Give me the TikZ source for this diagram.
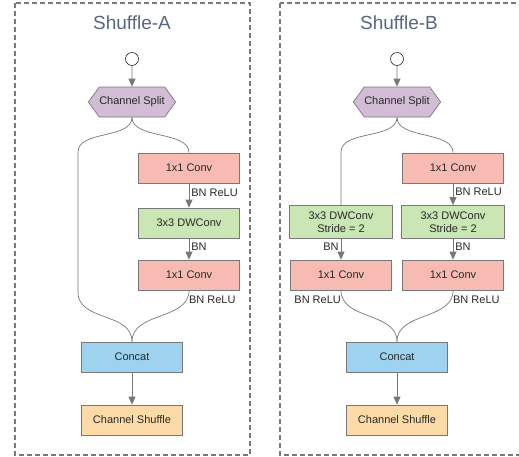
\documentclass[tikz,border=0pt]{standalone}
\usepackage{fontspec}
\setmainfont{Liberation Sans}
\usepackage{tikz}
\usetikzlibrary{arrows.meta,shapes.symbols}

\definecolor{convpink}{RGB}{248,187,179}
\definecolor{dwgreen}{RGB}{201,230,180}
\definecolor{catblue}{RGB}{158,211,240}
\definecolor{shufpeach}{RGB}{253,219,168}
\definecolor{splitlav}{RGB}{211,188,214}
\definecolor{linegray}{RGB}{120,120,120}
\definecolor{titleblue}{RGB}{88,102,128}
\definecolor{textdark}{RGB}{40,40,40}

\begin{document}
\begin{tikzpicture}[x=1pt,y=-1pt,
    blk/.style={draw=linegray, line width=0.7pt, minimum width=101pt, minimum height=30pt,
        inner sep=0pt, text=textdark, font=\fontsize{11}{13}\selectfont, align=center},
    conv/.style={blk, fill=convpink},
    dw/.style={blk, fill=dwgreen},
    dwtwo/.style={blk, fill=dwgreen, minimum width=103pt, minimum height=33pt},
    cat/.style={blk, fill=catblue},
    shuf/.style={blk, fill=shufpeach},
    split/.style={draw=linegray, line width=0.7pt, fill=splitlav, shape=signal,
        signal to=west and east, signal pointer angle=108, minimum width=83pt,
        minimum height=30pt, inner xsep=0pt, inner ysep=0pt, text=textdark,
        font=\fontsize{11}{13}\selectfont},
    inp/.style={draw=textdark, fill=white, circle, minimum size=13pt, inner sep=0pt, line width=0.6pt},
    title/.style={text=titleblue, font=\fontsize{19}{22}\selectfont},
    lbl/.style={text=textdark, font=\fontsize{11}{13}\selectfont, inner sep=2pt},
    ln/.style={draw=linegray, line width=0.7pt},
    arr/.style={ln, -{Triangle[length=8pt,width=7pt]}},
    frame/.style={draw=linegray, line width=1.1pt, dash pattern=on 5pt off 3pt}
]
\useasboundingbox (0,0) rectangle (519,456);

\draw[frame] (15,3) rectangle (250,455);
\draw[frame] (280,3) rectangle (530,455);

% Shuffle-A
\node[title] (titA) at (132,23) {Shuffle-A};
\node[inp] (inA) at (132,59) {};
\node[split] (splitA) at (132,102) {Channel Split};
\node[conv] (cA1) at (189,168) {1x1 Conv};
\node[dw] (dwA) at (189,223) {3x3 DWConv};
\node[conv] (cA2) at (189,275) {1x1 Conv};
\node[cat] (catA) at (132,357) {Concat};
\node[shuf] (shufA) at (132,420) {Channel Shuffle};
\coordinate (skA1) at (78,152);
\coordinate (skA2) at (78,292);

\draw[arr] (inA) -- (splitA);
\draw[ln] (splitA.south) .. controls +(0,22) and +(0,-22) .. (skA1) -- (skA2)
    .. controls +(0,30) and +(0,-30) .. (catA.north);
\draw[ln] (splitA.south) .. controls +(0,22) and +(0,-22) .. (cA1.north);
\draw[arr] (cA1) -- node[lbl,right,pos=0.4] {BN ReLU} (dwA);
\draw[arr] (dwA) -- node[lbl,right,pos=0.4] {BN} (cA2);
\draw[ln] (cA2.south) .. controls +(0,30) and +(0,-30) .. node[lbl,right,pos=0.12] {BN ReLU} (catA.north);
\draw[arr] (catA) -- (shufA);

% Shuffle-B
\node[title] (titB) at (399,23) {Shuffle-B};
\node[inp] (inB) at (397,59) {};
\node[split] (splitB) at (397,102) {Channel Split};
\node[dwtwo] (dwB1) at (341,222) {3x3 DWConv\\Stride = 2};
\node[conv] (cB1) at (341,275) {1x1 Conv};
\node[conv] (cB2) at (453,168) {1x1 Conv};
\node[dwtwo] (dwB2) at (453,222) {3x3 DWConv\\Stride = 2};
\node[conv] (cB3) at (453,275) {1x1 Conv};
\node[cat] (catB) at (397,357) {Concat};
\node[shuf] (shufB) at (397,420) {Channel Shuffle};
\coordinate (skB) at (341,152);

\draw[arr] (inB) -- (splitB);
\draw[ln] (splitB.south) .. controls +(0,22) and +(0,-22) .. (skB) -- (dwB1.north);
\draw[ln] (splitB.south) .. controls +(0,22) and +(0,-22) .. (cB2.north);
\draw[arr] (dwB1) -- node[lbl,left,pos=0.4] {BN} (cB1);
\draw[arr] (cB2) -- node[lbl,right,pos=0.4] {BN ReLU} (dwB2);
\draw[arr] (dwB2) -- node[lbl,right,pos=0.4] {BN} (cB3);
\draw[ln] (cB1.south) .. controls +(0,30) and +(0,-30) .. node[lbl,left,pos=0.12] {BN ReLU} (catB.north);
\draw[ln] (cB3.south) .. controls +(0,30) and +(0,-30) .. node[lbl,right,pos=0.12] {BN ReLU} (catB.north);
\draw[arr] (catB) -- (shufB);
\end{tikzpicture}
\end{document}
